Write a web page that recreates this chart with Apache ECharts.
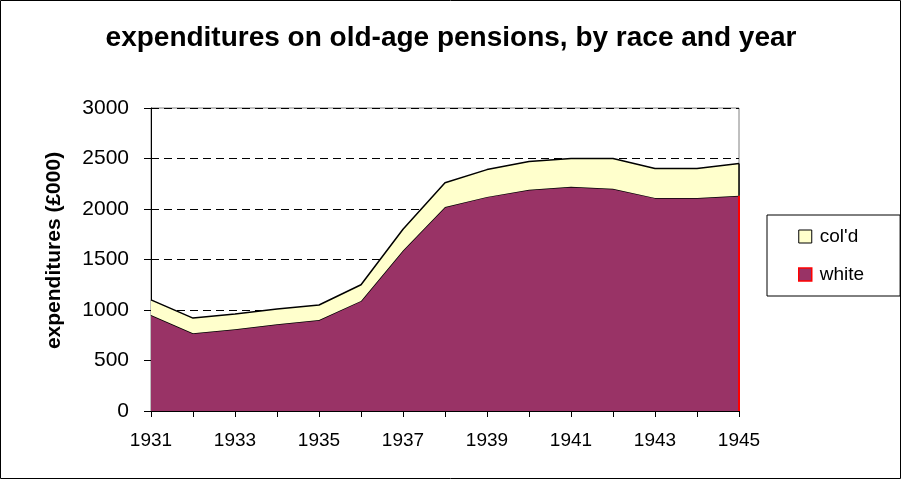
<!DOCTYPE html>
<html>
<head>
<meta charset="utf-8">
<script src="https://cdn.jsdelivr.net/npm/echarts@6/dist/echarts.min.js"></script>
<style>html,body{margin:0;padding:0;background:#fff}#c{width:902px;height:480px}</style>
</head>
<body>
<div id="c"></div>
<script>
var years = ['1931','1932','1933','1934','1935','1936','1937','1938','1939','1940','1941','1942','1943','1944','1945'];
var white = [950, 770, 810, 860, 900, 1090, 1590, 2020, 2120, 2190, 2220, 2200, 2110, 2110, 2130];
var coloured = [150, 150, 150, 150, 150, 160, 210, 240, 270, 280, 280, 300, 290, 290, 320];
var yTicks = [0, 500, 1000, 1500, 2000, 2500, 3000];

var FONT = 'Liberation Sans, Arial, sans-serif';
var last = years.length - 1;
var chart = echarts.init(document.getElementById('c'), null, {renderer: 'canvas'});
chart.setOption({
  animation: false,
  backgroundColor: '#fff',
  title: {
    text: 'expenditures on old-age pensions, by race and year',
    left: 'center', top: 19,
    textStyle: {fontFamily: FONT, fontSize: 28, fontWeight: 'bold', color: '#000'}
  },
  graphic: [{
    type: 'rect', shape: {x: 0.5, y: 0.5, width: 900, height: 478},
    style: {fill: 'none', stroke: '#000', lineWidth: 1}, silent: true, z: 100
  }],
  grid: {left: 151, right: 163, top: 108, bottom: 69, show: true, borderColor: '#808080', borderWidth: 1, backgroundColor: 'transparent'},
  legend: {
    left: 767, top: 215, orient: 'vertical',
    data: [
      {name: "col'd", icon: 'rect', itemStyle: {color: '#FFFFCC', borderColor: '#000', borderWidth: 1}},
      {name: 'white', icon: 'rect', itemStyle: {color: '#993366', borderColor: '#FF0000', borderWidth: 1.5}}
    ],
    itemWidth: 13, itemHeight: 13, itemGap: 19,
    padding: [12, 36, 12, 31],
    borderColor: '#000', borderWidth: 1,
    textStyle: {fontFamily: FONT, fontSize: 19, color: '#000', padding: [0, 0, 0, 3]}
  },
  xAxis: {
    type: 'category', data: years, boundaryGap: false,
    axisLine: {lineStyle: {color: '#000', width: 1}},
    axisTick: {show: true, interval: 0, length: 6, lineStyle: {color: '#000'}},
    axisLabel: {interval: 1, margin: 20, fontFamily: FONT, fontSize: 19, color: '#000'},
    splitLine: {show: false}
  },
  yAxis: {
    type: 'value', min: yTicks[0], max: yTicks[yTicks.length - 1], interval: 500,
    name: 'expenditures (£000)', nameLocation: 'middle', nameGap: 86,
    nameTextStyle: {fontFamily: FONT, fontSize: 21, fontWeight: 'bold', color: '#000', padding: [0, 0, 0, 18]},
    axisLine: {show: true, lineStyle: {color: '#000', width: 1}},
    axisTick: {show: true, length: 7, lineStyle: {color: '#000'}},
    axisLabel: {margin: 22, fontFamily: FONT, fontSize: 21, color: '#000', formatter: function (v) { return String(v); }},
    splitLine: {show: true, lineStyle: {color: '#000', type: [8, 5], width: 1}}
  },
  series: [
    {
      name: 'white', type: 'line', stack: 'total', data: white,
      symbol: 'none',
      lineStyle: {color: '#000', width: 1.5},
      areaStyle: {color: '#993366', opacity: 1},
      itemStyle: {color: '#993366', borderColor: '#FF0000'},
      markLine: {
        silent: true, symbol: 'none', label: {show: false},
        lineStyle: {color: '#FF0000', type: 'solid', width: 2},
        data: [[{coord: [last, 0]}, {coord: [last, white[last]]}]]
      },
      z: 2
    },
    {
      name: "col'd", type: 'line', stack: 'total', data: coloured,
      symbol: 'none',
      lineStyle: {color: '#000', width: 1.5},
      areaStyle: {color: '#FFFFCC', opacity: 1},
      itemStyle: {color: '#FFFFCC', borderColor: '#000'},
      markLine: {
        silent: true, symbol: 'none', label: {show: false},
        lineStyle: {color: '#000', type: 'solid', width: 1.5},
        data: [[{coord: [last, white[last]]}, {coord: [last, white[last] + coloured[last]]}]]
      },
      z: 3
    }
  ]
});
</script>
</body>
</html>
